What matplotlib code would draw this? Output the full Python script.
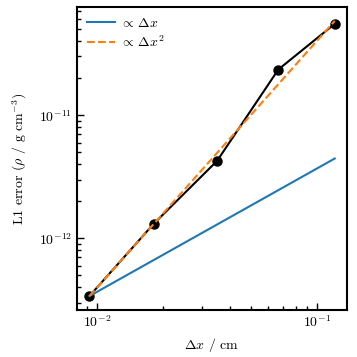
import matplotlib
matplotlib.use("Agg")
import matplotlib.pyplot as plt
import numpy as np

plt.rcParams['font.family'] = 'serif'
plt.rcParams['font.serif'] = ['cmr10', 'DejaVu Serif']
plt.rcParams['mathtext.fontset'] = 'cm'
plt.rcParams['axes.formatter.use_mathtext'] = True
plt.rcParams['axes.unicode_minus'] = True

dx = np.array([0.0092, 0.0181, 0.0351, 0.0667, 0.1205])
err = np.array([3.40e-13, 1.32e-12, 4.26e-12, 2.35e-11, 5.52e-11])

fig = plt.figure(figsize=(3.57, 3.57), dpi=100)
ax = fig.add_axes([0.216, 0.132, 0.756, 0.848])

ax.plot(dx, err, '-o', color='black', lw=1.5, ms=6.5, zorder=2)
ax.plot(dx, err[0] * dx / dx[0], color='#1f77b4', lw=1.5, label=r'$\propto\,\Delta x$', zorder=3)
ax.plot(dx, err[0] * (dx / dx[0])**2, '--', color='#ff7f0e', lw=1.5, label=r'$\propto\,\Delta x^2$', zorder=3)

ax.set_xscale('log')
ax.set_yscale('log')
ax.set_xticks([1e-2, 1e-1])
ax.set_yticks([1e-12, 1e-11])
ax.set_xlabel(r'$\Delta x$ / cm', fontsize=10)
ax.set_ylabel(r'L1 error ($\rho$ / g cm$^{-3}$)', fontsize=10, labelpad=7)
ax.tick_params(which='both', direction='in', labelsize=10, width=1.0)
ax.tick_params(which='major', length=5)
ax.tick_params(which='minor', length=3)
for s in ax.spines.values():
    s.set_linewidth(1.5)
ax.legend(loc='upper left', frameon=False, fontsize=10, borderaxespad=0.3,
          labelspacing=0.3, handletextpad=0.4, handlelength=2.0)

fig.savefig('out.png', dpi=100)
